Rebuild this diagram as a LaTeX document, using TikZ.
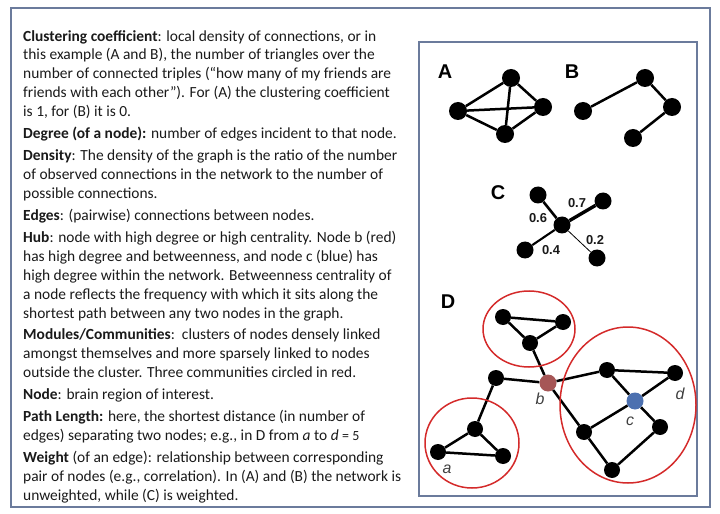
\documentclass[tikz,border=0pt]{standalone}
\usepackage{fontspec}
\setmainfont{Carlito}
\newfontfamily\arialfont{Liberation Sans}
\definecolor{Frame}{HTML}{6B7B9C}
\definecolor{Ring}{HTML}{D42A2A}
\definecolor{HubRed}{HTML}{A65656}
\definecolor{HubBlue}{HTML}{4C70B0}
\definecolor{Ink}{HTML}{1A1A1A}
\tikzset{
  vert/.style={circle,fill=black,inner sep=0pt,minimum size=17bp},
  edge/.style={line width=2.5bp},
  panel/.style={font=\arialfont\bfseries\fontsize{20}{20}\selectfont,text=black},
  wlabel/.style={font=\arialfont\bfseries\fontsize{13}{13}\selectfont,text=Ink},
  vlabel/.style={font=\arialfont\itshape\fontsize{16}{16}\selectfont,text=black!75},
  ring/.style={draw=Ring,line width=1.5bp},
}

\begin{document}
\begin{tikzpicture}[x=1bp,y=-1bp]
\useasboundingbox (0,0) rectangle (720,514);
\draw[Frame,line width=1.6bp] (11,8) rectangle (710,507);
\draw[Frame,line width=1.6bp] (419,42) rectangle (697,496);
% glossary
\node[anchor=north west,inner sep=0pt,align=left,text=Ink,
  font=\fontsize{15.5}{19}\selectfont] (gloss) at (23,30) {%
\textbf{Clustering coefficient}: local density of connections, or in\\
this example (A and B), the number of triangles over the\\
number of connected triples (“how many of my friends are\\
friends with each other”). For (A) the clustering coefficient\\
is 1, for (B) it is 0.\\[3bp]
\textbf{Degree (of a node):} number of edges incident to that node.\\[3bp]
\textbf{Density}: The density of the graph is the ratio of the number\\
of observed connections in the network to the number of\\
possible connections.\\[3bp]
\textbf{Edges}: (pairwise) connections between nodes.\\[3bp]
\textbf{Hub}: node with high degree or high centrality. Node b (red)\\
has high degree and betweenness, and node c (blue) has\\
high degree within the network. Betweenness centrality of\\
a node reflects the frequency with which it sits along the\\
shortest path between any two nodes in the graph.\\[3bp]
\textbf{Modules/Communities}:\ \ clusters of nodes densely linked\\
amongst themselves and more sparsely linked to nodes\\
outside the cluster. Three communities circled in red.\\[3bp]
\textbf{Node}: brain region of interest.\\[3bp]
\textbf{Path Length:} here, the shortest distance (in number of\\
edges) separating two nodes; e.g., in D from \textit{a} to \textit{d} {\fontsize{14}{19}\selectfont= 5}\\[3bp]
\textbf{Weight} (of an edge): relationship between corresponding\\
pair of nodes (e.g., correlation). In (A) and (B) the network is\\
unweighted, while (C) is weighted.};
% A
\node[panel] (labA) at (445,72) {A};
\node[vert,minimum size=18bp] (A1) at (511,78) {};
\node[vert,minimum size=18bp] (A2) at (543,107) {};
\node[vert,minimum size=18bp] (A3) at (505,134) {};
\node[vert,minimum size=18bp] (A4) at (458,111) {};
\draw[edge] (A4) -- (A1) -- (A2) -- (A3) -- (A4);
\draw[edge] (A4) -- (A2);
\draw[edge] (A1) -- (A3);
% B
\node[panel] (labB) at (572,72) {B};
\node[vert,minimum size=18bp] (B1) at (583,111) {};
\node[vert,minimum size=18bp] (B2) at (645,78) {};
\node[vert,minimum size=18bp] (B3) at (672,107) {};
\node[vert,minimum size=18bp] (B4) at (633,138) {};
\draw[edge] (B1) -- (B2) -- (B3) -- (B4);
% C
\node[panel] (labC) at (498,193) {C};
\node[vert] (Cm) at (562,225) {};
\node[vert] (Ca) at (538,195) {};
\node[vert] (Cb) at (603,201) {};
\node[vert] (Cc) at (525,250) {};
\node[vert] (Cd) at (597,258) {};
\draw[line width=2.6bp] (Cm) -- (Ca);
\draw[line width=3.4bp] (Cm) -- (Cb);
\draw[line width=2.1bp] (Cm) -- (Cc);
\draw[line width=0.8bp] (Cm) -- (Cd);
\node[wlabel] (w07) at (577,203) {0.7};
\node[wlabel] (w06) at (538,218) {0.6};
\node[wlabel] (w04) at (551,250) {0.4};
\node[wlabel] (w02) at (595,240) {0.2};
% D
\node[panel] (labD) at (448,302) {D};
\node[vert,minimum size=16bp] (t1) at (503,317) {};
\node[vert,minimum size=16bp] (t2) at (563,322) {};
\node[vert,minimum size=16bp] (t3) at (530,343) {};
\node[vert,minimum size=17bp,fill=HubRed] (hb) at (548,383) {};
\node[vert,minimum size=16bp] (lk) at (496,378) {};
\node[vert,minimum size=16bp] (a1) at (475,429) {};
\node[vert,minimum size=16bp] (a2) at (438,452) {};
\node[vert,minimum size=16bp] (a3) at (503,456) {};
\node[vert,minimum size=16bp] (r1) at (607,370) {};
\node[vert,minimum size=16bp] (r2) at (675,373) {};
\node[vert,minimum size=17bp,fill=HubBlue] (hc) at (635,401) {};
\node[vert,minimum size=16bp] (r3) at (584,432) {};
\node[vert,minimum size=16bp] (r4) at (660,427) {};
\node[vert,minimum size=16bp] (r5) at (612,470) {};
\draw[edge] (t1) -- (t2) -- (t3) -- (t1);
\draw[edge] (t3) -- (hb);
\draw[edge] (lk) -- (hb);
\draw[edge] (lk) -- (a1);
\draw[edge] (a1) -- (a2) -- (a3) -- (a1);
\draw[edge] (hb) -- (r1);
\draw[edge] (hb) -- (r3);
\draw[edge] (r1) -- (r2) -- (hc) -- (r1);
\draw[edge] (hc) -- (r3) -- (r5) -- (r4) -- (hc);
\draw[ring] (529,329) ellipse [x radius=46,y radius=38];
\draw[ring] (472,443) ellipse [x radius=47,y radius=45];
\draw[ring] (628,405) ellipse [x radius=68,y radius=78];
\node[vlabel] (la) at (447,469) {a};
\node[vlabel] (lb) at (540,399) {b};
\node[vlabel] (lc) at (630,421) {c};
\node[vlabel] (ld) at (680,394) {d};
\end{tikzpicture}
\end{document}
